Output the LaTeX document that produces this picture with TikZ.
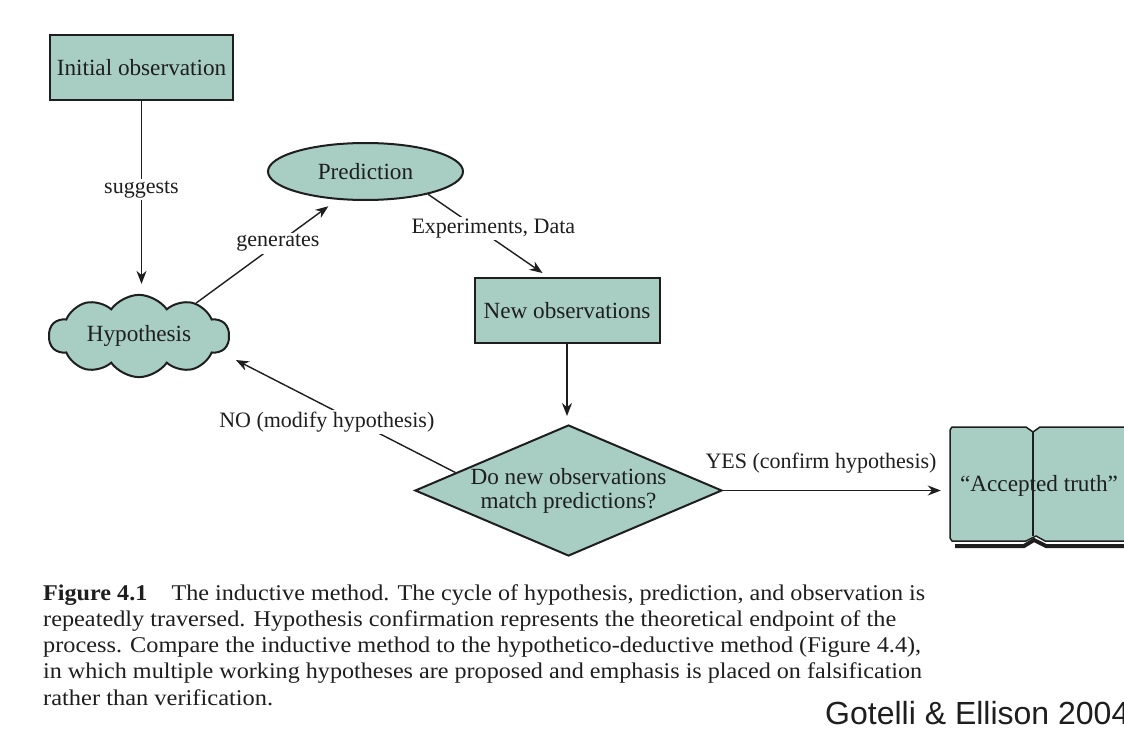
\documentclass[tikz,border=0pt]{standalone}
\usepackage{fontspec}
\setmainfont{Liberation Serif}
\newfontfamily\gotfont{Liberation Sans}
\usetikzlibrary{shapes.geometric,shapes.symbols,arrows.meta,calc}
\definecolor{tealfill}{RGB}{168,206,196}
\definecolor{ink}{RGB}{30,30,30}
\newlength\capw
\makeatletter
\newcommand\fitline[2]{\settowidth\capw{#2}\scalebox{\fpeval{#1/\strip@pt\capw}}[1]{#2}}
\makeatother
\begin{document}
\begin{tikzpicture}[x=1pt,y=-1pt,
  lbl/.style={font=\fontsize{22}{26}\selectfont, text=ink, inner sep=2pt},
  arr/.style={draw=ink, line width=1.4pt, -{Stealth[length=13pt,width=10pt]}},
  box/.style={draw=ink, line width=2pt, fill=tealfill, text=ink,
    font=\fontsize{23.2}{24}\selectfont, inner sep=0pt},
  capline/.style={anchor=base west, inner sep=0pt, text=ink, font=\fontsize{22.5}{26}\selectfont}]
\useasboundingbox (0,0) rectangle (1124,733);
\fill[white] (0,0) rectangle (1124,733);

% nodes
\node[box, minimum width=183pt, minimum height=65pt] (init) at (141.5,67.5) {Initial observation};
\node[box, ellipse, minimum width=195pt, minimum height=57pt] (pred) at (365.5,171.5) {Prediction};
\node[box, minimum width=185pt, minimum height=65pt] (newobs) at (567,310.5) {New observations};
\node[box, diamond, minimum width=307pt, minimum height=131pt, aspect=2.34, align=center] (dia) at (568.5,490.5) {Do new observations\\match predictions?};
\node[box, cloud, cloud puffs=10, cloud puff arc=110, aspect=2.4, minimum width=180pt, minimum height=78pt] (hyp) at (139,336) {Hypothesis};

% book "Accepted truth"
\filldraw[fill=tealfill, draw=ink, line width=1.5pt] (950,430) -- (952,427) -- (1026,427) -- (1033,432) -- (1040,427) -- (1130,427) -- (1130,541) -- (1045,541) -- (1036,536) -- (1026,541) -- (952,541) -- (950,538) -- cycle;
\draw[ink, line width=1.2pt] (1033,432) -- (1033,536);
\draw[ink, line width=4pt] (955,546) -- (1024,546) -- (1034,540) -- (1046,546) -- (1130,546);
\node[font=\fontsize{23.2}{24}\selectfont, text=ink, minimum width=180pt, minimum height=114pt, inner sep=0pt] (truth) at (1039,486) {“Accepted truth”};

% connectors
\draw[arr, shorten >=10pt] (init.south) -- (init.south |- hyp.north)
  node[lbl, fill=white, pos=0.46] {suggests};
\draw[arr, shorten >=11pt] (hyp.30) -- (pred.225)
  node[lbl, fill=white, pos=0.58] {generates};
\draw[arr, shorten >=7pt] (pred.340) -- ($(newobs.north west)!0.4!(newobs.north east)$)
  node[lbl, fill=white, pos=0.385, xshift=19pt, yshift=-2pt] {Experiments, Data};
\draw[arr, shorten >=8pt] (newobs.south) -- (newobs.south |- dia.north);
\draw[arr] (dia.171) -- ($(hyp.east)+(6,24)$)
  node[lbl, fill=white, pos=0.486, xshift=-22pt, yshift=-4pt] {NO (modify hypothesis)};
\draw[arr, shorten >=8pt] (dia.east) -- (dia.east -| truth.west)
  node[lbl, pos=0.434, above=15pt] {YES (confirm hypothesis)};

% caption
\node[capline] (c1) at (43,600) {\fitline{882}{\textbf{Figure 4.1}\quad The inductive method. The cycle of hypothesis, prediction, and observation is}};
\node[capline] (c2) at (43,626.3) {\fitline{853}{repeatedly traversed. Hypothesis confirmation represents the theoretical endpoint of the}};
\node[capline] (c3) at (43,652.6) {\fitline{878}{process. Compare the inductive method to the hypothetico-deductive method (Figure 4.4),}};
\node[capline] (c4) at (43,678.9) {\fitline{879}{in which multiple working hypotheses are proposed and emphasis is placed on falsification}};
\node[capline] (c5) at (43,705.2) {\fitline{230}{rather than verification.}};
\node[anchor=base west, inner sep=0pt, text=ink, font=\gotfont\fontsize{32}{36}\selectfont] (src) at (825,724) {Gotelli \& Ellison 2004};
\end{tikzpicture}
\end{document}
